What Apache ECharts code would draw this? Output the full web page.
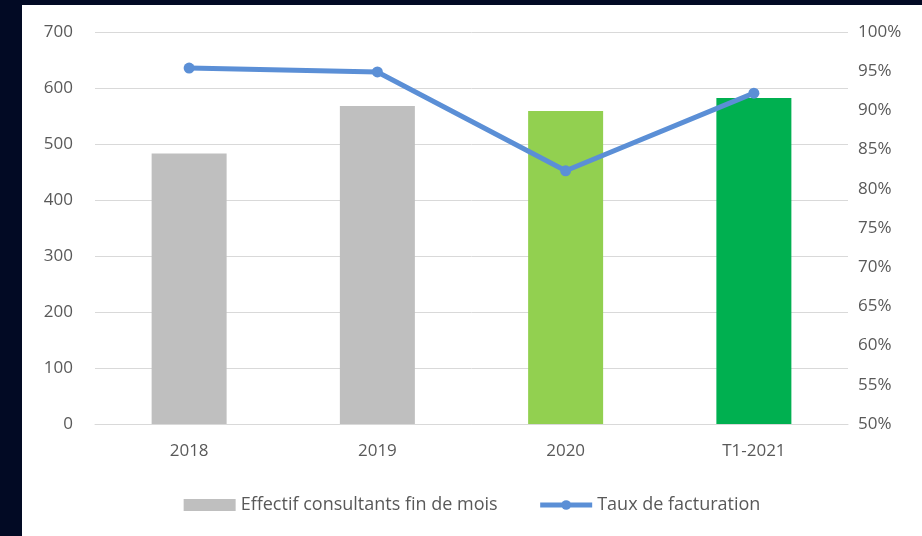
<!DOCTYPE html>
<html>
<head>
<meta charset="utf-8">
<script src="https://cdn.jsdelivr.net/npm/echarts@6/dist/echarts.min.js"></script>
<style>
	html, body { margin: 0; padding: 0; background: #020a24; }
	#frame { position: absolute; left: 22px; top: 5px; width: 900px; height: 531px; background: #fff; }
	#chart { width: 900px; height: 531px; }
</style>
</head>
<body>
<div id="frame"><div id="chart"></div></div>
<script>
var categories = ['2018', '2019', '2020', 'T1-2021'];
var effectif = [483, 568, 559, 582];
var taux = [95.4, 94.9, 82.3, 92.2];
var barColors = ['#bfbfbf', '#bfbfbf', '#92d050', '#00b050'];
var leftTicks = [0, 700, 100];
var rightTicks = [50, 100, 5];

var font = 'Open Sans';
var labelColor = '#595959';

var eChart = echarts.init(document.getElementById('chart'));

var option = {
	animation: false,
	textStyle: { fontFamily: font },
	grid: {
		left: 73,
		right: 74,
		top: 27,
		bottom: 112
	},
	legend: {
		bottom: 17,
		left: 'center',
		itemGap: 40,
		itemWidth: 52,
		itemHeight: 12,
		textStyle: { fontFamily: font, fontSize: 18, color: labelColor },
		data: [{
			name: 'Effectif consultants fin de mois',
			icon: 'rect',
			itemStyle: { color: '#bfbfbf' }
		}, {
			name: 'Taux de facturation',
			lineStyle: { width: 5, color: '#5b8fd6' }
		}]
	},
	xAxis: {
		type: 'category',
		data: categories,
		axisLine: { lineStyle: { color: '#d9d9d9' } },
		axisTick: { show: false },
		axisLabel: { color: labelColor, fontSize: 17, margin: 19 }
	},
	yAxis: [{
		type: 'value',
		min: leftTicks[0],
		max: leftTicks[1],
		interval: leftTicks[2],
		axisLine: { show: false },
		axisTick: { show: false },
		axisLabel: { color: labelColor, fontSize: 17, margin: 22 },
		splitLine: { lineStyle: { color: '#d9d9d9' } }
	}, {
		type: 'value',
		min: rightTicks[0],
		max: rightTicks[1],
		interval: rightTicks[2],
		axisLine: { show: false },
		axisTick: { show: false },
		axisLabel: { color: labelColor, fontSize: 17, margin: 10, formatter: '{value}%' },
		splitLine: { show: false }
	}],
	series: [{
		name: 'Effectif consultants fin de mois',
		type: 'bar',
		barWidth: 75,
		data: effectif.map(function(v, i) {
			return { value: v, itemStyle: { color: barColors[i] } };
		}),
		itemStyle: { color: '#bfbfbf' }
	}, {
		name: 'Taux de facturation',
		type: 'line',
		yAxisIndex: 1,
		data: taux,
		symbol: 'circle',
		symbolSize: 11,
		lineStyle: { color: '#5b8fd6', width: 5 },
		itemStyle: { color: '#5b8fd6' }
	}]
};

eChart.setOption(option);
</script>
</body>
</html>
